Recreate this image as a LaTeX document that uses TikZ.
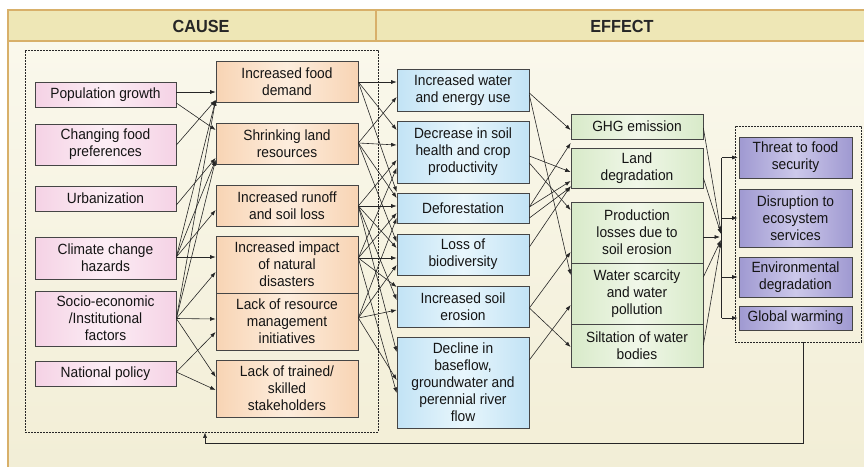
\documentclass[tikz,border=0pt]{standalone}
\usepackage{fontspec}
\setmainfont{Liberation Sans}[FakeStretch=0.93]
\usetikzlibrary{arrows.meta,calc}
\definecolor{frame}{HTML}{D8B06A}
\definecolor{headfill}{HTML}{EEE7B6}
\definecolor{bgA}{HTML}{FAF8EC}
\definecolor{bgB}{HTML}{F2EED6}
\definecolor{boxline}{HTML}{454545}
\definecolor{arrcol}{HTML}{262626}
\definecolor{pinkA}{HTML}{F5D2E5}
\definecolor{pinkB}{HTML}{FCEEF5}
\definecolor{orA}{HTML}{F8D4B4}
\definecolor{orB}{HTML}{FDEDDD}
\definecolor{blA}{HTML}{C2E3F5}
\definecolor{blB}{HTML}{E8F6FC}
\definecolor{grA}{HTML}{D8EAC9}
\definecolor{grB}{HTML}{F0F7E8}
\definecolor{puA}{HTML}{9F99D1}
\definecolor{puB}{HTML}{CCC8EA}
\newcommand\cn[4]{\draw[arr] ($(#1.east)+(0,#2)$) -- ($(#3.west)+(0,#4)$);}
\begin{document}
\begin{tikzpicture}[x=1pt,y=-1pt,
  box/.style={draw=boxline, line width=0.7pt, inner sep=0pt, align=center,
    font=\fontsize{14.8}{17}\selectfont, text=black!92},
  pinkbox/.style={box, left color=pinkA, right color=pinkA, middle color=pinkB},
  orbox/.style={box, left color=orA, right color=orA, middle color=orB},
  blbox/.style={box, left color=blA, right color=blA, middle color=blB},
  grbox/.style={box, left color=grA, right color=grA, middle color=grB},
  pubox/.style={box, left color=puA, right color=puA, middle color=puB},
  dashbox/.style={draw=black!85, dashed, dash pattern=on 2pt off 1pt, line width=0.7pt, inner sep=0pt},
  arr/.style={draw=arrcol, line width=0.6pt, -{Latex[length=5.5pt,width=4pt]}},
  plainline/.style={draw=arrcol, line width=0.6pt},
  head/.style={font=\fontsize{17.5}{19}\selectfont\bfseries, text=black!85}
]
\useasboundingbox (0,0) rectangle (864,466);
% background
\fill[white] (0,0) rectangle (864,466);
\shade[top color=bgA, bottom color=bgB] (8,41) rectangle (870,470);
\fill[headfill] (8,10) rectangle (870,41);
\draw[frame, line width=1.2pt] (870,10) -- (8,10) -- (8,470);
\draw[frame, line width=1.2pt] (8,41) -- (870,41);
\draw[frame, line width=1.2pt] (376,10) -- (376,41);
\node[head] (hcause) at (201,26) {CAUSE};
\node[head] (heffect) at (622,26) {EFFECT};
% dashed group boxes
\node[dashbox, minimum width=353, minimum height=382] (causebox) at (201.5,241) {};
\node[dashbox, minimum width=126, minimum height=216] (effbox) at (798,234) {};
% column 1
\node[pinkbox, minimum width=141, minimum height=25] (p1) at (105.5,94.5) {Population growth};
\node[pinkbox, minimum width=141, minimum height=41] (p2) at (105.5,144.5) {Changing food\\preferences};
\node[pinkbox, minimum width=141, minimum height=25] (p3) at (105.5,198.5) {Urbanization};
\node[pinkbox, minimum width=141, minimum height=42] (p4) at (105.5,258) {Climate change\\hazards};
\node[pinkbox, minimum width=141, minimum height=55] (p5) at (105.5,318.5) {Socio-economic\\/Institutional\\factors};
\node[pinkbox, minimum width=141, minimum height=25] (p6) at (105.5,373.5) {National policy};
% column 2
\node[orbox, minimum width=142, minimum height=41] (o1) at (287,81.5) {Increased food\\demand};
\node[orbox, minimum width=142, minimum height=41] (o2) at (287,143.5) {Shrinking land\\resources};
\node[orbox, minimum width=142, minimum height=41] (o3) at (287,205.5) {Increased runoff\\and soil loss};
\node[orbox, minimum width=142, minimum height=57] (o4) at (287,264.5) {Increased impact\\of natural\\disasters};
\node[orbox, minimum width=142, minimum height=57] (o5) at (287,321.5) {Lack of resource\\management\\initiatives};
\node[orbox, minimum width=142, minimum height=57] (o6) at (287,388.5) {Lack of trained/\\skilled\\stakeholders};
% column 3
\node[blbox, minimum width=132, minimum height=42] (b1) at (463,90) {Increased water\\and energy use};
\node[blbox, minimum width=132, minimum height=62] (b2) at (463,152) {Decrease in soil\\health and crop\\productivity};
\node[blbox, minimum width=132, minimum height=30] (b3) at (463,208) {Deforestation};
\node[blbox, minimum width=132, minimum height=41] (b4) at (463,254.5) {Loss of\\biodiversity};
\node[blbox, minimum width=132, minimum height=41] (b5) at (463,306.5) {Increased soil\\erosion};
\node[blbox, minimum width=132, minimum height=91] (b6) at (463,382.5) {Decline in\\baseflow,\\groundwater and\\perennial river\\flow};
% column 4
\node[grbox, minimum width=132, minimum height=25] (g1) at (637,126.5) {GHG emission};
\node[grbox, minimum width=132, minimum height=40] (g2) at (637,168) {Land\\degradation};
\node[grbox, minimum width=132, minimum height=61] (g3) at (637,232.5) {Production\\losses due to\\soil erosion};
\node[grbox, minimum width=132, minimum height=61] (g4) at (637,293.5) {Water scarcity\\and water\\pollution};
\node[grbox, minimum width=132, minimum height=43] (g5) at (637,345.5) {Siltation of water\\bodies};
% column 5
\node[pubox, minimum width=113, minimum height=41] (v1) at (795.5,157.5) {Threat to food\\security};
\node[pubox, minimum width=113, minimum height=58] (v2) at (795.5,218) {Disruption to\\ecosystem\\services};
\node[pubox, minimum width=113, minimum height=40] (v3) at (795.5,277) {Environmental\\degradation};
\node[pubox, minimum width=113, minimum height=24] (v4) at (795.5,318) {Global warming};
% column 1 -> 2
\cn{p1}{-2.5}{o1}{10.5}
\cn{p1}{8.5}{o2}{-13.5}
\cn{p2}{0.5}{o1}{18.5}
\cn{p3}{6.5}{o2}{14.5}
\cn{p4}{-1}{o4}{-7.5}
\cn{p4}{-1}{o1}{18.5}
\cn{p4}{-1}{o2}{16.5}
\cn{p4}{-1}{o3}{4.5}
\cn{p5}{0}{o4}{7.5}
\cn{p5}{0}{o5}{-2.5}
\cn{p5}{0}{o6}{-11.5}
\cn{p5}{0}{o1}{18.5}
\cn{p5}{0}{o2}{16.5}
\cn{p6}{-1.5}{o5}{10.5}
\cn{p6}{-1.5}{o6}{1.5}
% column 2 -> 3
\cn{o1}{0.5}{b1}{-8}
\cn{o1}{0.5}{b2}{-22}
\cn{o1}{0.5}{b3}{-16}
\cn{o2}{-0.5}{b2}{-7}
\cn{o2}{-0.5}{b1}{7}
\cn{o2}{-0.5}{b3}{-10}
\cn{o2}{-0.5}{b4}{-12.5}
\cn{o3}{0.5}{b3}{-2}
\cn{o3}{0.5}{b2}{8}
\cn{o3}{0.5}{b4}{-6.5}
\cn{o3}{0.5}{b5}{-6.5}
\cn{o3}{0.5}{b6}{-30.5}
\cn{o4}{-6.5}{b4}{3.5}
\cn{o4}{-6.5}{b2}{16}
\cn{o4}{-6.5}{b3}{5}
\cn{o4}{-6.5}{b5}{-19.5}
\cn{o4}{-6.5}{b6}{10.5}
\cn{o5}{-3.5}{b5}{3.5}
\cn{o5}{-3.5}{b4}{10.5}
\cn{o5}{-3.5}{b3}{10}
\cn{o5}{-3.5}{b6}{-2.5}
% column 3 -> 4
\cn{b1}{3}{g1}{3.5}
\cn{b1}{5}{g4}{-18.5}
\cn{b2}{4}{g2}{4}
\cn{b2}{11}{g3}{-22.5}
\cn{b3}{-1}{g1}{16.5}
\cn{b3}{-1}{g2}{13}
\cn{b3}{10}{g2}{19}
\cn{b4}{-7.5}{g2}{18}
\cn{b5}{1.5}{g3}{19.5}
\cn{b5}{1.5}{g5}{1.5}
\cn{b6}{-22.5}{g4}{11.5}
% column 4 -> hub
\coordinate (hub) at (721,237);
\draw[arr] ($(g1.east)+(0,1.5)$) -- ($(hub)+(0,-5)$);
\draw[arr] ($(g2.east)+(0,10)$) -- ($(hub)+(0,-3)$);
\draw[arr] ($(g3.east)+(0,4.5)$) -- ($(hub)+(-1,0)$);
\draw[arr] ($(g4.east)+(0,-16.5)$) -- ($(hub)+(0,3)$);
\draw[arr] ($(g5.east)+(0,-0.5)$) -- ($(hub)+(0,5)$);
% hub -> effects
\draw[plainline] ($(v1.west)+(-17,0)$) -- ($(v4.west)+(-17,0)$);
\draw[arr] ($(v1.west)+(-17,0)$) -- ($(v1.west)+(-1,0)$);
\draw[arr] ($(v2.west)+(-17,0)$) -- ($(v2.west)+(-1,0)$);
\draw[arr] ($(v3.west)+(-17,0)$) -- ($(v3.west)+(-1,0)$);
\draw[arr] ($(v4.west)+(-17,0)$) -- ($(v4.west)+(-1,0)$);
% feedback
\coordinate (fb) at (205,443);
\draw[arr] ($(effbox.south)+(5,0)$) |- (fb) -- (fb |- causebox.south);
\end{tikzpicture}
\end{document}
